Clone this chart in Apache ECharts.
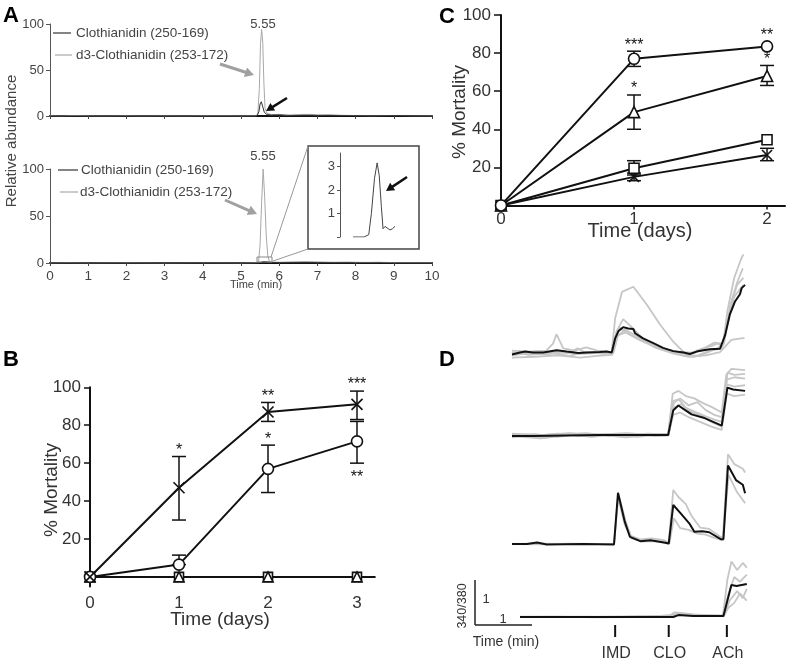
<!DOCTYPE html>
<html><head><meta charset="utf-8">
<script src="https://cdn.jsdelivr.net/npm/echarts@6/dist/echarts.min.js"></script>
<style>html,body{margin:0;padding:0;background:#fff}#c{width:787px;height:659px}</style>
</head><body><div id="c"></div>
<script>
// ---------- Panel A: chromatograms (time in min, relative abundance %) ----------
const aXTicks = [0,1,2,3,4,5,6,7,8,9,10];
const aTopD3 = [[0,0.3],[0.3,0],[0.6,0.5],[1.0,0.2],[1.5,0],[2.0,0.3],[2.4,0],[3.0,0.2],[3.5,0],[4.0,0.3],[4.45,0.2],[4.5,1.8],[4.56,0.3],[5.0,0.1],[5.38,0.2],[5.44,2],[5.48,30],[5.51,78],[5.54,94],[5.57,80],[5.6,35],[5.63,8],[5.68,3],[5.8,1.5],[6.0,1.8],[6.2,0.8],[6.5,1.5],[6.8,1.8],[7.0,1.2],[7.3,1.6],[7.6,0.8],[8.0,0.5],[8.5,0.2],[9.0,0.6],[9.5,0.2],[10,0.1]];
const aTopClo = [[0,0],[0.9,0],[0.95,0.8],[1.0,0],[2.5,0],[2.55,0.6],[2.6,0],[4.45,0],[4.5,1.2],[4.55,0],[5.42,0],[5.47,5],[5.5,13],[5.53,15.5],[5.57,10],[5.61,4],[5.68,1.5],[5.8,1],[6.0,1.2],[6.3,0.6],[6.8,0.8],[7.2,0.5],[7.8,0.4],[8.5,0.3],[9.2,0.5],[10,0]];
const aBotD3 = [[0,0],[0.5,0.2],[1.0,0],[2.0,0.2],[3.0,0],[4.0,0.2],[5.0,0],[5.4,0.3],[5.46,1],[5.5,20],[5.54,65],[5.58,100],[5.62,70],[5.66,30],[5.7,8],[5.74,2],[5.8,1],[6.0,0.8],[6.3,1.2],[6.7,1.6],[7.0,1.2],[7.4,0.8],[7.8,1.0],[8.2,0.6],[8.6,0.8],[9.0,0.4],[9.5,0.3],[10,0.2]];
const aBotClo = [[0,0],[2,0],[4,0.2],[5.4,0],[5.5,0.1],[5.56,1.5],[5.6,3],[5.65,1.5],[5.7,0.4],[5.8,0.5],[6.5,0.3],[8,0.2],[10,0]];
const aInsetClo = [[5.4,0],[5.505,0],[5.51,0.07],[5.55,0.1],[5.575,1.0],[5.605,2.5],[5.63,3.15],[5.65,2.6],[5.67,1.3],[5.686,0.35],[5.705,0.45],[5.724,0.4],[5.752,0.3],[5.775,0.35],[5.8,0.45]];
const aInsetTicks = [0,1,2,3];
const aInsetLabels = [1,2,3];

// ---------- Panel B: % mortality vs days ----------
const bDays = [0,1,2,3];
const bCross = [0,47,87,91];
const bCrossLo = [0,30,82,83];
const bCrossHi = [0,63.5,92,98];
const bCircle = [0,6.5,57,71.5];
const bCircleLo = [0,6.5,44.5,60];
const bCircleHi = [0,11.5,69.5,82];
const bSquare = [0,0,0,0];
const bTriangle = [0,0,0,0];
const bStars = [[1,63.5,'*','up'],[2,92,'**','up'],[3,98,'***','up'],[2,69.5,'*','up'],[3,60,'**','down']];
const bYTicks = [20,40,60,80,100];

// ---------- Panel C ----------
const cDays = [0,1,2];
const cCircle = [0,77,83.5];
const cCircleLo = [0,73,83.5];
const cCircleHi = [0,81,83.5];
const cTriangle = [0,49,68];
const cTriangleLo = [0,40,63];
const cTriangleHi = [0,58,73.5];
const cSquare = [0,19.5,34.5];
const cSquareLo = [0,16,34.5];
const cSquareHi = [0,23.5,34.5];
const cCross = [0,15,26.5];
const cCrossLo = [0,13,23.5];
const cCrossHi = [0,17,30];
const cStars = [[1,81,'***','up'],[2,86,'**','up'],[1,58,'*','up'],[2,73.5,'*','up']];
const cYTicks = [20,40,60,80,100];

// ---------- Panel D: 340/380 ratio traces (time in min, ratio above baseline) ----------
const dEvents = [['IMD',1.81],['CLO',2.75],['ACh',3.77]];
const d1Mean = [[0,-0.03],[0.14,0.01],[0.23,0.03],[0.37,0.01],[0.55,0.01],[0.78,0.06],[0.96,0.03],[1.16,0],[1.31,0.01],[1.54,0.02],[1.66,0.03],[1.75,0.01],[1.81,0.31],[1.87,0.47],[1.95,0.55],[2.04,0.52],[2.13,0.51],[2.16,0.42],[2.3,0.31],[2.48,0.21],[2.65,0.11],[2.83,0.04],[3.01,0.01],[3.12,-0.02],[3.24,0.03],[3.36,0.06],[3.47,0.08],[3.65,0.09],[3.74,0.38],[3.82,0.81],[3.91,1.09],[4.0,1.25],[4.03,1.38],[4.09,1.45]];
const d1Cells = [
 [[0,-0.05],[0.3,0],[0.6,-0.03],[0.9,0.02],[1.2,-0.02],[1.5,0],[1.75,0.02],[1.81,0.74],[1.93,1.3],[2.13,1.41],[2.37,1.02],[2.6,0.6],[2.83,0.24],[3.06,-0.04],[3.3,-0.06],[3.5,0.05],[3.68,0.1],[3.75,0.5],[3.85,1.1],[3.95,1.5],[4.05,1.8]],
 [[0,0.05],[0.3,0.03],[0.6,0.05],[0.72,0.2],[0.78,0.4],[0.9,0.1],[1.1,0.05],[1.3,0.12],[1.5,0.05],[1.75,0.02],[1.83,0.45],[1.95,0.72],[2.1,0.55],[2.3,0.3],[2.5,0.15],[2.7,0.05],[2.9,0],[3.1,-0.02],[3.3,0.08],[3.5,0.15],[3.6,0.2],[3.7,0.15],[3.78,0.9],[3.9,1.6],[4.02,2.0],[4.06,2.1]],
 [[0,-0.1],[0.4,-0.08],[0.8,-0.05],[1.2,-0.1],[1.5,-0.06],[1.76,-0.04],[1.85,0.35],[1.98,0.5],[2.2,0.35],[2.5,0.12],[2.8,0],[3.1,-0.08],[3.4,-0.05],[3.65,0.02],[3.75,0.15],[3.85,0.28],[4.08,0.32]],
 [[0,0.02],[0.3,-0.04],[0.7,0],[1.0,-0.06],[1.3,0.02],[1.6,-0.02],[1.78,0],[1.86,0.38],[2.0,0.44],[2.2,0.3],[2.45,0.16],[2.75,0.06],[3.0,-0.05],[3.2,-0.08],[3.45,0.04],[3.6,0.1],[3.72,0.2],[3.82,0.95],[3.95,1.45],[4.06,1.6]],
 [[0,0],[0.5,0.04],[1.0,0.0],[1.15,0.1],[1.3,0],[1.77,0.03],[1.88,0.55],[2.05,0.4],[2.3,0.25],[2.6,0.1],[2.9,0.03],[3.2,0.0],[3.4,0.12],[3.55,0.22],[3.7,0.2],[3.8,0.7],[3.9,1.2],[4.06,1.45]]
];
const d2Mean = [[0,0],[0.37,0],[0.96,0.01],[1.54,0.02],[2.13,0.02],[2.74,0.02],[2.83,0.55],[2.92,0.65],[3.04,0.55],[3.15,0.46],[3.36,0.39],[3.53,0.3],[3.68,0.22],[3.78,1.03],[3.88,0.99],[4.09,0.96]];
const d2Cells = [
 [[0,0.03],[0.4,0],[0.8,0.05],[1.2,0],[1.6,0.04],[2.0,0.02],[2.4,0.05],[2.74,0.03],[2.82,0.9],[2.92,0.96],[3.05,0.85],[3.2,0.8],[3.35,0.7],[3.5,0.62],[3.68,0.5],[3.76,1.3],[3.85,1.43],[4.09,1.4]],
 [[0,-0.03],[0.3,0.02],[0.6,-0.04],[1.0,0.03],[1.4,-0.02],[1.8,0.03],[2.2,-0.02],[2.6,0.04],[2.75,0.02],[2.84,0.7],[2.95,0.8],[3.1,0.65],[3.25,0.72],[3.4,0.55],[3.55,0.45],[3.68,0.4],[3.77,1.2],[3.9,1.25],[4.09,1.22]],
 [[0,0],[0.5,-0.05],[0.9,0.02],[1.3,0.06],[1.7,0],[2.1,0.05],[2.5,0],[2.74,0.01],[2.83,0.45],[2.95,0.5],[3.1,0.4],[3.3,0.3],[3.5,0.2],[3.68,0.13],[3.77,0.9],[3.9,0.85],[4.09,0.88]],
 [[0,0.02],[0.4,0.04],[0.8,-0.02],[1.2,0.05],[1.6,0.02],[2.0,-0.03],[2.4,0.03],[2.74,0.05],[2.83,0.75],[2.93,0.78],[3.05,0.6],[3.2,0.52],[3.4,0.42],[3.55,0.35],[3.68,0.3],[3.77,1.1],[3.9,1.05],[4.09,1.08]],
 [[0,0.05],[0.5,0.02],[1.0,0.06],[1.5,0.03],[2.0,0.06],[2.5,0.02],[2.75,0.04],[2.84,0.6],[2.97,0.68],[3.15,0.5],[3.3,0.45],[3.5,0.3],[3.68,0.2],[3.78,1.35],[3.9,1.3],[4.09,1.32]]
];
const d3Mean = [[0,0],[0.26,0],[0.44,0.03],[0.61,-0.01],[1.25,0],[1.79,-0.01],[1.86,1.09],[1.98,0.47],[2.07,0.15],[2.25,0.06],[2.43,0.08],[2.67,0.03],[2.75,0.01],[2.83,0.83],[2.96,0.65],[3.11,0.44],[3.2,0.26],[3.34,0.27],[3.46,0.25],[3.67,0.1],[3.71,0.1],[3.79,1.67],[3.93,1.36],[4.05,1.26],[4.07,1.24],[4.09,1.08]];
const d3Cells = [
 [[0,0],[0.5,0.01],[1.0,0],[1.5,0],[1.79,0],[1.86,1.0],[1.98,0.4],[2.07,0.18],[2.25,0.1],[2.45,0.12],[2.67,0.08],[2.75,0.03],[2.83,1.15],[2.92,1.0],[3.05,0.85],[3.15,0.6],[3.3,0.35],[3.46,0.32],[3.6,0.2],[3.7,0.12],[3.79,1.91],[3.9,1.7],[4.05,1.6],[4.09,1.52]],
 [[0,0],[0.5,-0.01],[1.0,0.01],[1.5,0],[1.79,0],[1.87,1.05],[1.99,0.5],[2.1,0.12],[2.3,0.05],[2.5,0.06],[2.7,0.02],[2.76,0.0],[2.84,0.55],[2.95,0.34],[3.1,0.3],[3.25,0.22],[3.4,0.2],[3.55,0.13],[3.7,0.08],[3.8,1.47],[3.95,1.1],[4.09,0.87]]
];
const d4Mean = [[0.14,0],[1.44,0],[2.83,0],[2.92,0.04],[3.18,0.02],[3.71,0.02],[3.85,0.68],[3.94,0.66],[4.12,0.7]];
const d4Cells = [
 [[0.14,0],[0.8,0.01],[1.5,-0.01],[2.2,0],[2.75,0.01],[2.85,0.1],[3.0,0.08],[3.2,0.05],[3.5,0.02],[3.7,0.02],[3.78,0.8],[3.85,1.18],[3.95,1.0],[4.05,1.15],[4.12,1.05]],
 [[0.14,0.01],[1.0,0],[2.0,0.01],[2.8,0.02],[2.9,0.08],[3.1,0.04],[3.7,0.03],[3.8,0.5],[3.9,0.85],[4.0,0.75],[4.12,0.9]],
 [[0.14,0],[1.2,0.01],[2.4,0],[2.85,0.05],[3.3,0.03],[3.72,0.02],[3.82,0.35],[3.95,0.55],[4.05,0.4],[4.12,0.6]],
 [[0.14,0],[1.5,0],[2.8,0.03],[3.0,0.06],[3.72,0.03],[3.8,0.2],[3.9,0.3],[4.0,0.5],[4.12,0.35]]
];

// ---------- rendering ----------
const FONT = '"Liberation Sans", Arial, Helvetica, sans-serif';
const INK = '#111', LAB = '#333';
const chart = echarts.init(document.getElementById('c'));

function pairs(xs, ys){ return xs.map((x,i)=>[x, ys[i]]); }
function lineSer(xi, data, color, w){
  return {type:'line', xAxisIndex:xi, yAxisIndex:xi, data, showSymbol:false, symbol:'none',
    lineStyle:{color, width:w}, silent:true, z:2};
}
const crossPath = 'path://M0,0L10,10M10,0L0,10';
function markSer(xi, data, symbol, size){
  return {type:'line', xAxisIndex:xi, yAxisIndex:xi, data, symbol, symbolSize:size, showAllSymbol:true,
    lineStyle:{color:INK, width:2}, itemStyle:{color:'#fff', borderColor:INK, borderWidth:1.6}, silent:true, z:3};
}
function errSer(xi, days, lo, hi, cap){
  const data = days.map((d,i)=>[d, lo[i], hi[i]]).filter(r=>r[1]!==r[2]);
  return {type:'custom', xAxisIndex:xi, yAxisIndex:xi, data, silent:true, z:2,
    renderItem:(p, api)=>{
      const x = api.value(0), a = api.coord([x, api.value(1)]), b = api.coord([x, api.value(2)]);
      const st = {stroke:INK, lineWidth:1.5};
      return {type:'group', children:[
        {type:'line', shape:{x1:a[0],y1:a[1],x2:b[0],y2:b[1]}, style:st},
        {type:'line', shape:{x1:a[0]-cap,y1:a[1],x2:a[0]+cap,y2:a[1]}, style:st},
        {type:'line', shape:{x1:b[0]-cap,y1:b[1],x2:b[0]+cap,y2:b[1]}, style:st}]};
    }};
}
function starSer(xi, stars){
  return {type:'custom', xAxisIndex:xi, yAxisIndex:xi, data: stars.map(s=>[s[0], s[1]]), silent:true, z:4,
    renderItem:(p, api)=>{
      const s = stars[p.dataIndex];
      const c = api.coord([api.value(0), api.value(1)]);
      const up = s[3]==='up';
      return {type:'text', x:c[0], y: up ? c[1]-6 : c[1]+14,
        style:{text:s[2], fontSize:16, fontFamily:FONT, fill:INK, textAlign:'center', textVerticalAlign:'middle'}};
    }};
}

const grids = [
  {left:50, top:24, width:382, height:92},            // 0 A top
  {left:50, top:169, width:382, height:94},           // 1 A bottom
  {left:353, top:153, width:42, height:84},           // 2 inset
  {left:90, top:387.3, width:284.8, height:199.1},    // 3 B
  {left:501, top:15, width:284, height:191.4},        // 4 C
  {left:512, top:249.6, width:234.8, height:117.5},   // 5 D1
  {left:512, top:360.8, width:234.8, height:89.3},    // 6 D2
  {left:512, top:454.7, width:234.8, height:103.4},   // 7 D3
  {left:512, top:555.9, width:234.8, height:75.2}     // 8 D4
];
const noSplit = {show:false};
const xAxes = [
  {gridIndex:0, type:'value', min:0, max:10, interval:1, axisLine:{lineStyle:{color:INK,width:2}}, axisTick:{length:3,lineStyle:{color:'#444'}}, axisLabel:{show:false}, splitLine:noSplit},
  {gridIndex:1, type:'value', min:0, max:10, interval:1, axisLine:{lineStyle:{color:INK,width:2}}, axisTick:{length:3,lineStyle:{color:'#444'}}, axisLabel:{fontSize:13.5,color:'#444',fontFamily:FONT,margin:6}, splitLine:noSplit},
  {gridIndex:2, type:'value', min:5.4, max:5.8, show:false},
  {gridIndex:3, type:'value', min:0, max:3.2, axisLine:{lineStyle:{color:INK,width:2}}, axisTick:{length:4,lineStyle:{color:INK,width:1.5},customValues:bDays}, axisLabel:{fontSize:17,color:LAB,fontFamily:FONT,margin:8,customValues:bDays}, splitLine:noSplit},
  {gridIndex:4, type:'value', min:0, max:2.135, axisLine:{lineStyle:{color:INK,width:2}}, axisTick:{length:4,lineStyle:{color:INK,width:1.5},customValues:cDays}, axisLabel:{fontSize:17,color:LAB,fontFamily:FONT,margin:4,customValues:cDays}, splitLine:noSplit},
  {gridIndex:5, type:'value', min:0, max:4.12, show:false},
  {gridIndex:6, type:'value', min:0, max:4.12, show:false},
  {gridIndex:7, type:'value', min:0, max:4.12, show:false},
  {gridIndex:8, type:'value', min:0, max:4.12, show:false}
];
const yAxes = [
  {gridIndex:0, type:'value', min:0, max:100, interval:50, axisLine:{show:true,lineStyle:{color:'#555',width:1}}, axisTick:{show:true,length:4,lineStyle:{color:'#555'}}, axisLabel:{fontSize:13,color:'#444',fontFamily:FONT,margin:6}, splitLine:noSplit},
  {gridIndex:1, type:'value', min:0, max:100, interval:50, axisLine:{show:true,lineStyle:{color:'#555',width:1}}, axisTick:{show:true,length:4,lineStyle:{color:'#555'}}, axisLabel:{fontSize:13,color:'#444',fontFamily:FONT,margin:6}, splitLine:noSplit},
  {gridIndex:2, type:'value', min:0, max:3.57, offset:13, axisLine:{show:true,lineStyle:{color:'#555',width:1}}, axisTick:{show:true,length:3,lineStyle:{color:'#555'},customValues:aInsetTicks}, axisLabel:{fontSize:13,color:'#444',fontFamily:FONT,margin:5,customValues:aInsetLabels}, splitLine:noSplit},
  {gridIndex:3, type:'value', min:-5, max:100, axisLine:{show:true,lineStyle:{color:INK,width:2}}, axisTick:{show:true,length:6,lineStyle:{color:INK,width:1.5},customValues:bYTicks}, axisLabel:{fontSize:17,color:LAB,fontFamily:FONT,margin:9,customValues:bYTicks}, splitLine:noSplit},
  {gridIndex:4, type:'value', min:-0.5, max:100, axisLine:{show:true,lineStyle:{color:INK,width:2}}, axisTick:{show:true,length:7,lineStyle:{color:INK,width:1.5},customValues:cYTicks}, axisLabel:{fontSize:17,color:LAB,fontFamily:FONT,margin:10,customValues:cYTicks}, splitLine:noSplit},
  {gridIndex:5, type:'value', min:-0.3, max:2.2, show:false},
  {gridIndex:6, type:'value', min:-0.3, max:1.6, show:false},
  {gridIndex:7, type:'value', min:-0.3, max:1.9, show:false},
  {gridIndex:8, type:'value', min:-0.3, max:1.3, show:false}
];

const GRAY = '#a8a8a8', DARK = '#333', CELL = '#c6c6c6';
const series = [
  lineSer(0, aTopD3, GRAY, 1), lineSer(0, aTopClo, DARK, 1),
  lineSer(1, aBotD3, GRAY, 1), lineSer(1, aBotClo, DARK, 1),
  lineSer(2, aInsetClo, '#444', 1),
  errSer(3, bDays, bCrossLo, bCrossHi, 7), errSer(3, bDays, bCircleLo, bCircleHi, 7),
  markSer(3, pairs(bDays, bSquare), 'rect', 9), markSer(3, pairs(bDays, bTriangle), 'triangle', 10),
  markSer(3, pairs(bDays, bCircle), 'circle', 11), markSer(3, pairs(bDays, bCross), crossPath, 11),
  starSer(3, bStars),
  errSer(4, cDays, cCircleLo, cCircleHi, 7), errSer(4, cDays, cTriangleLo, cTriangleHi, 7),
  errSer(4, cDays, cSquareLo, cSquareHi, 7), errSer(4, cDays, cCrossLo, cCrossHi, 7),
  markSer(4, pairs(cDays, cCross), crossPath, 10), markSer(4, pairs(cDays, cSquare), 'rect', 10),
  markSer(4, pairs(cDays, cTriangle), 'triangle', 11), markSer(4, pairs(cDays, cCircle), 'circle', 11),
  starSer(4, cStars)
];
[[5,d1Cells,d1Mean],[6,d2Cells,d2Mean],[7,d3Cells,d3Mean],[8,d4Cells,d4Mean]].forEach(([xi,cells,mean])=>{
  cells.forEach(c=>series.push(lineSer(xi, c, CELL, 1.8)));
  series.push(lineSer(xi, mean, INK, 2));
});

chart.setOption({animation:false, backgroundColor:'#fff', grid:grids, xAxis:xAxes, yAxis:yAxes, series});

// ---------- annotations ----------
function txt(x,y,s,fs,o={}){ return {type:'text', x, y, rotation:o.rot||0, z:10,
  style:{text:s, fontSize:fs, fontFamily:FONT, fill:o.color||LAB, fontWeight:o.bold?'bold':'normal', textAlign:o.align||'center', textVerticalAlign:'middle'}}; }
function seg(x1,y1,x2,y2,color,w){ return {type:'line', z:10, shape:{x1,y1,x2,y2}, style:{stroke:color, lineWidth:w}}; }
function arrow(x1,y1,x2,y2,color,w,hl,hw){
  const dx=x2-x1, dy=y2-y1, L=Math.hypot(dx,dy), ux=dx/L, uy=dy/L, bx=x2-ux*hl, by=y2-uy*hl, px=-uy, py=ux;
  return [seg(x1,y1,bx+ux*1,by+uy*1,color,w), {type:'polygon', z:10, shape:{points:[[x2,y2],[bx+px*hw,by+py*hw],[bx-px*hw,by-py*hw]]}, style:{fill:color}}];
}
const R = Math.PI/2;
const g = [];
g.push(txt(11,16,'A',22,{bold:true,color:'#000'}), txt(447,17,'C',22,{bold:true,color:'#000'}),
       txt(11,360,'B',22,{bold:true,color:'#000'}), txt(447,360,'D',22,{bold:true,color:'#000'}));
g.push(txt(12,141,'Relative abundance',15,{rot:R,color:'#444'}));
g.push(txt(263,24,'5.55',13,{color:'#444'}), txt(263,156,'5.55',13,{color:'#444'}));
g.push(txt(256,285,'Time (min)',11,{color:'#444'}));
g.push(seg(53,33,71,33,DARK,1.2), txt(76,33,'Clothianidin (250-169)',13.5,{align:'left',color:'#444'}));
g.push(seg(55,55,72,55,GRAY,1.2), txt(76,55,'d3-Clothianidin (253-172)',13.5,{align:'left',color:'#444'}));
g.push(seg(58,170,78,170,DARK,1.2), txt(81,170,'Clothianidin (250-169)',13.5,{align:'left',color:'#444'}));
g.push(seg(60,192,78,192,GRAY,1.2), txt(80,192,'d3-Clothianidin (253-172)',13.5,{align:'left',color:'#444'}));
g.push(...arrow(220,64,254,75,'#a0a0a0',3,9,5), ...arrow(225,200,257,214,'#a0a0a0',3,9,5));
g.push(...arrow(287,98,266,111,'#111',2.5,8,4.5), ...arrow(407,177,386,191,'#111',2.5,8,4.5));
g.push({type:'rect', z:10, shape:{x:308,y:146,width:111,height:103}, style:{fill:'none', stroke:'#444', lineWidth:1.5}});
g.push({type:'rect', z:10, shape:{x:257,y:257,width:15,height:5}, style:{fill:'none', stroke:'#888', lineWidth:1}});
g.push(seg(271,257,308,146,'#999',1), seg(273,261,308,249,'#999',1));
g.push(txt(52,490,'% Mortality',19,{rot:R}), txt(220,620,'Time (days)',19));
g.push(txt(460,112,'% Mortality',19,{rot:R}), txt(640,231,'Time (days)',20));
g.push(seg(475,580,475,625,'#222',1.5), seg(475,625,532,625,'#222',1.5));
g.push(txt(486,599,'1',13), txt(503,619,'1',13), txt(506,642,'Time (min)',14), txt(463,606,'340/380',12.5,{rot:R}));
dEvents.forEach(([name,t])=>{
  const x = chart.convertToPixel({xAxisIndex:8}, t);
  g.push(seg(x,625,x,637,'#111',2), txt(x+1,654,name,16));
});
chart.setOption({graphic:g});
</script>
</body></html>
